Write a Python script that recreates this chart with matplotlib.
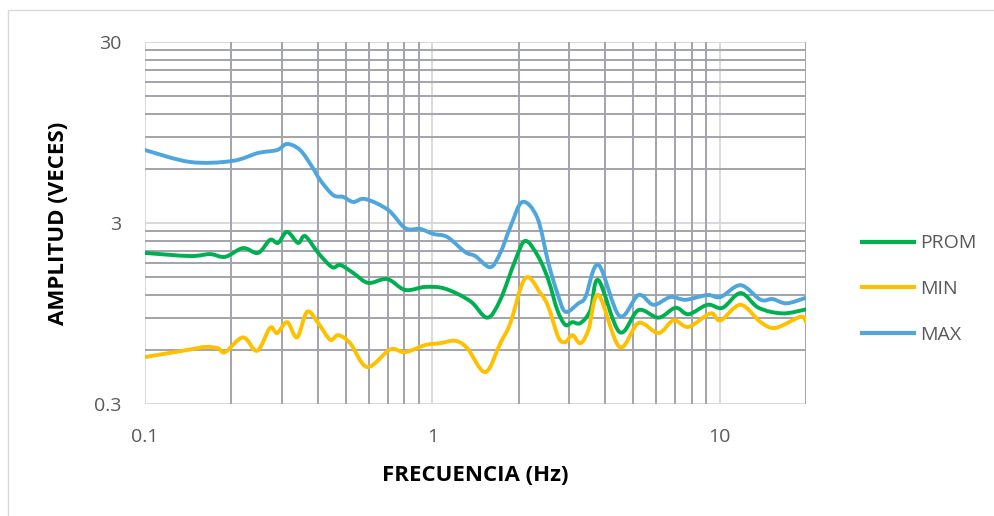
import numpy as np
import matplotlib
matplotlib.use("Agg")
import matplotlib.pyplot as plt
from matplotlib.patches import Rectangle, PathPatch
from matplotlib.path import Path
from matplotlib.lines import Line2D

# frecuencia (Hz) / amplitud (veces)
f_max = [0.100, 0.1435, 0.201, 0.2475, 0.2884, 0.3125, 0.3467, 0.382, 0.4073, 0.4518,
         0.4896, 0.5305, 0.5842, 0.7026, 0.805, 0.908, 1.008, 1.128, 1.303, 1.412,
         1.592, 1.725, 1.870, 2.059, 2.322, 2.537, 2.726, 2.907, 3.227, 3.414,
         3.788, 4.483, 5.223, 5.888, 6.752, 7.612, 9.083, 10.08, 11.84, 13.90,
         15.30, 17.12, 20.0]
a_max = [7.59, 6.52, 6.60, 7.31, 7.59, 8.20, 7.59, 6.12, 5.18, 4.28,
         4.18, 3.92, 4.07, 3.54, 2.81, 2.78, 2.61, 2.51, 2.07, 1.97,
         1.71, 2.05, 2.85, 3.92, 3.20, 1.80, 1.23, 0.97, 1.08, 1.17,
         1.76, 0.92, 1.20, 1.06, 1.17, 1.13, 1.20, 1.17, 1.36, 1.13,
         1.14, 1.08, 1.16]

f_prom = [0.100, 0.1435, 0.1685, 0.190, 0.2195, 0.2475, 0.2725, 0.2907, 0.3125, 0.341,
          0.361, 0.4008, 0.4482, 0.478, 0.5305, 0.5984, 0.6969, 0.805, 0.9454, 1.110,
          1.356, 1.554, 1.725, 1.946, 2.109, 2.341, 2.537, 2.726, 2.907, 3.075,
          3.280, 3.553, 3.788, 4.483, 5.223, 6.131, 7.028, 7.798, 9.083, 10.24,
          11.84, 13.68, 16.58, 20.0]
a_prom = [2.05, 1.97, 2.02, 1.95, 2.18, 2.05, 2.42, 2.33, 2.68, 2.33,
          2.54, 2.05, 1.71, 1.76, 1.59, 1.40, 1.47, 1.28, 1.33, 1.30,
          1.11, 0.90, 1.13, 1.87, 2.39, 1.95, 1.45, 0.99, 0.82, 0.85,
          0.84, 0.99, 1.45, 0.75, 0.99, 0.90, 1.02, 0.94, 1.06, 1.02,
          1.23, 1.02, 0.95, 1.00]

f_min = [0.100, 0.1435, 0.162, 0.1796, 0.190, 0.2195, 0.2456, 0.2725, 0.2884, 0.3125,
         0.3385, 0.3668, 0.4008, 0.441, 0.4706, 0.5179, 0.5936, 0.714, 0.805, 0.9454,
         1.066, 1.202, 1.324, 1.530, 1.725, 1.870, 2.109, 2.379, 2.537, 2.748,
         2.907, 3.075, 3.280, 3.497, 3.788, 4.483, 5.223, 6.131, 6.916, 7.798,
         9.304, 10.08, 11.84, 13.90, 15.67, 19.15, 20.0]
a_min = [0.545, 0.60, 0.62, 0.61, 0.58, 0.70, 0.59, 0.79, 0.74, 0.85,
         0.70, 0.97, 0.84, 0.68, 0.72, 0.65, 0.48, 0.60, 0.58, 0.635,
         0.65, 0.67, 0.61, 0.45, 0.65, 0.84, 1.49, 1.23, 1.03, 0.70,
         0.66, 0.72, 0.65, 0.77, 1.20, 0.62, 0.84, 0.74, 0.87, 0.80,
         0.95, 0.87, 1.06, 0.85, 0.79, 0.91, 0.85]

x_major = [0.1, 1, 10]
x_labels = ["0.1", "1", "10"]
y_major = [0.3, 3, 30]
y_labels = ["0.3", "3", "30"]

c_prom = "#00b050"
c_min = "#ffc000"
c_max = "#4ea6dc"
grid_dark = "#a3a3ab"
grid_light = "#d9d9d9"


def smooth_path(xs, ys):
    # Excel-like smoothed line: cubic bezier through the points (in log-log space)
    lx = np.log10(xs)
    ly = np.log10(ys)
    P = np.column_stack([lx, ly])
    n = len(P)
    verts = [P[0]]
    codes = [Path.MOVETO]
    for i in range(n-1):
        p0 = P[max(i-1, 0)]
        p1 = P[i]
        p2 = P[i+1]
        p3 = P[min(i+2, n-1)]
        c1 = p1 + (p2 - p0)/6.0
        c2 = p2 - (p3 - p1)/6.0
        verts += [c1, c2, p2]
        codes += [Path.CURVE4]*3
    verts = 10**np.array(verts)
    return Path(verts, codes)


plt.rcParams['font.family'] = ['Open Sans', 'DejaVu Sans']

fig = plt.figure(figsize=(9.95, 5.16), dpi=100)
ax = fig.add_axes([145/995, 1-404/516, (806-145)/995, (404-42)/516])
ax.set_xscale('log')
ax.set_yscale('log')
ax.set_xlim(0.1, 20)
ax.set_ylim(0.3, 30)

# minor grid: 2..9 x each decade (x), 0.3*k and 3*k (y)
x_minor = [d*k for d in [0.1, 1, 10] for k in range(2, 10) if d*k <= 20]
y_minor = [d*k for d in [0.3, 3] for k in range(2, 10)]
ax.set_xticks(x_major)
ax.set_xticklabels(x_labels)
ax.set_xticks(x_minor, minor=True)
ax.set_yticks(y_major)
ax.set_yticklabels(y_labels)
ax.set_yticks(y_minor, minor=True)
ax.tick_params(which='minor', length=0, labelleft=False, labelbottom=False)
ax.tick_params(which='major', length=0, labelsize=14, labelcolor='#595959')
ax.tick_params(axis='x', which='major', pad=17)
ax.tick_params(axis='y', which='major', pad=17)
ax.grid(which='minor', color=grid_dark, lw=1.4)
for v in x_major:
    ax.axvline(v, color=grid_light, lw=1.4, zorder=1)
for v in y_major:
    ax.axhline(v, color=grid_light, lw=1.4, zorder=1)
for s in ax.spines.values():
    s.set_visible(False)

series = [('PROM', f_prom, a_prom, c_prom),
          ('MIN', f_min, a_min, c_min),
          ('MAX', f_max, a_max, c_max)]
handles = []
for name, xs, ys, col in series:
    ax.add_patch(PathPatch(smooth_path(xs, ys), fill=False, edgecolor=col, lw=2.8,
                           capstyle='round', joinstyle='round', zorder=3))
    handles.append(Line2D([], [], color=col, lw=3, label=name))

ax.set_xlabel('FRECUENCIA (Hz)', fontsize=16, fontweight='bold', labelpad=14)
ax.set_ylabel('AMPLITUD (VECES)', fontsize=16, fontweight='bold', labelpad=18)

leg = fig.legend(handles=handles, loc='center left', bbox_to_anchor=(862/995, 1-289/516),
                 frameon=False, fontsize=14, handlelength=2.7, handletextpad=0.3,
                 labelspacing=1.42, borderpad=0, borderaxespad=0)
for t in leg.get_texts():
    t.set_color('#595959')

# chart area border
fig.patches.append(Rectangle((8/995, -0.01), 1.0, 1-10/516+0.01, transform=fig.transFigure,
                             fill=False, edgecolor=grid_light, lw=1))

fig.savefig('out.png', dpi=100)
